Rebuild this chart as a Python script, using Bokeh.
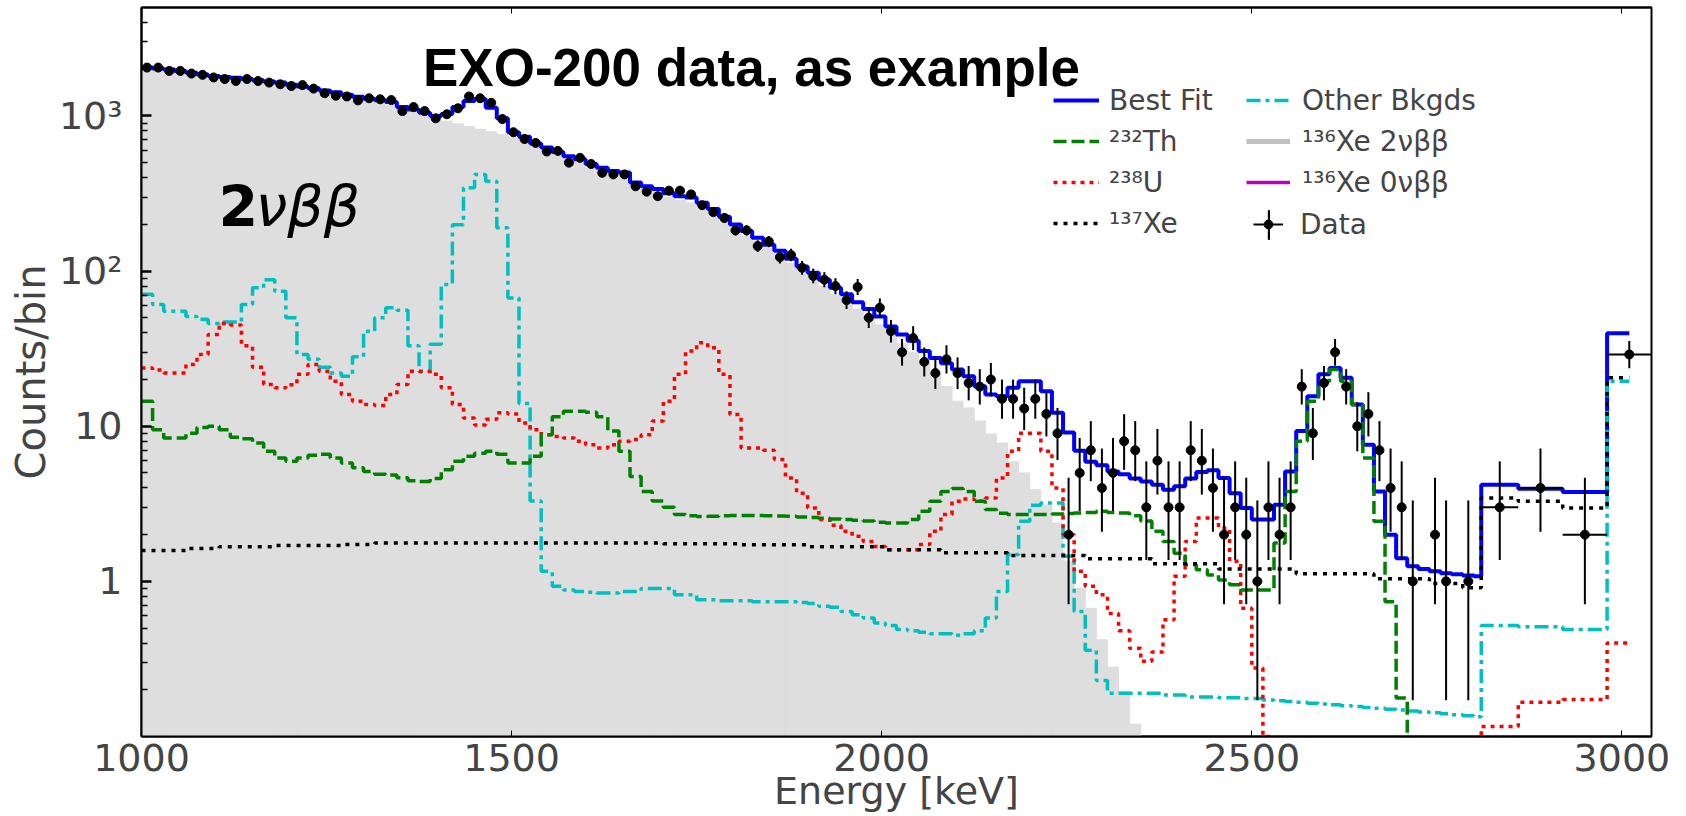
import numpy as np
from bokeh.plotting import figure
from bokeh.models import Range1d, FixedTicker, LinearAxis, Legend, LegendItem, Label
from bokeh.embed import file_html
from bokeh.resources import INLINE

# ---------------- binning (keV) ----------------
fine_lo = list(range(1000, 2801, 15))          # 121 fine bins (lower edges)
wide_edges = [2810, 2860, 2920, 2980, 3010]    # 4 wide bins at the end
edges = fine_lo + wide_edges                   # 126 edges -> 125 bins

# ---------------- model components (counts / bin) ----------------
best_fit = [2050, 2020, 1990, 1950, 1900, 1850, 1810, 1780, 1760, 1730,
            1700, 1670, 1640, 1590, 1550, 1510, 1460, 1420, 1370, 1330,
            1290, 1260, 1230, 1140, 1100, 1050, 1000, 1030, 1140, 1250,
            1285, 1130, 965, 785, 735, 665, 625, 585, 550, 525,
            490, 463, 442, 432, 373, 352, 338, 317, 304, 298,
            276, 251, 224, 200, 181, 164, 148, 135, 120, 107,
            97.5, 88, 78, 71, 63, 57, 51, 44, 39, 35.5,
            30.5, 27.5, 25.5, 23.2, 21, 18.1, 16, 15.6, 17.7, 19.5,
            19.5, 16.8, 12.2, 9.1, 6.95, 5.9, 5.6, 5.1, 4.9, 4.6,
            4.4, 4.2, 3.9, 4.1, 4.6, 5.06, 5.2, 4.64, 3.7, 2.97,
            2.5, 2.5, 3.12, 5.1, 9.3, 15.6, 21.6, 23.7, 20.5, 13.8,
            7.6, 3.8, 2.0, 1.41, 1.25, 1.2, 1.16, 1.13, 1.11, 1.09,
            1.08,
            4.2, 3.96, 3.77, 39.8]

xe136_2nu = [2000, 1970, 1940, 1900, 1860, 1820, 1780, 1750, 1730, 1700,
             1670, 1630, 1600, 1550, 1510, 1470, 1420, 1380, 1330, 1290,
             1250, 1215, 1180, 1100, 1060, 1010, 960, 925, 890, 855,
             820, 790, 760, 730, 700, 650, 610, 570, 535, 505,
             475, 445, 420, 405, 355, 335, 320, 300, 285, 275,
             255, 232, 208, 187, 168, 155, 140, 126, 112, 100,
             90, 80, 71, 64, 57, 51, 45, 39, 34, 30,
             26, 22, 18, 14.5, 13.1, 10.8, 8.9, 7.8, 5.9, 5.0,
             3.9, 3.1, 2.38, 1.35, 0.9, 0.67, 0.42, 0.28, 0.195, 0.12,
             0, 0, 0, 0, 0, 0, 0, 0, 0, 0,
             0, 0, 0, 0, 0, 0, 0, 0, 0, 0,
             0, 0, 0, 0, 0, 0, 0, 0, 0, 0,
             0,
             0, 0, 0, 0]

th232 = [14.5, 9.5, 8.4, 8.4, 9.0, 9.8, 10.0, 9.5, 8.5, 8.3,
         7.8, 6.9, 6.25, 5.95, 6.25, 6.5, 6.6, 6.25, 5.8, 5.4,
         5.1, 4.9, 4.85, 4.65, 4.45, 4.4, 4.6, 5.25, 5.95, 6.4,
         6.7, 6.9, 6.6, 5.8, 5.8, 6.4, 8.8, 11.5, 12.5, 12.5,
         12.3, 11.5, 9.3, 6.9, 4.75, 3.8, 3.3, 3.0, 2.7, 2.65,
         2.62, 2.63, 2.65, 2.66, 2.66, 2.66, 2.65, 2.64, 2.63, 2.6,
         2.58, 2.55, 2.52, 2.5, 2.48, 2.45, 2.4, 2.38, 2.38, 2.5,
         2.83, 3.28, 3.8, 3.97, 3.8, 3.28, 2.9, 2.75, 2.7, 2.7,
         2.7, 2.7, 2.72, 2.74, 2.76, 2.78, 2.83, 2.78, 2.76, 2.65,
         2.45, 2.1, 1.81, 1.52, 1.28, 1.19, 1.1, 1.02, 0.95, 0.88,
         0.88, 0.88, 1.77, 3.8, 8.0, 14.5, 19.5, 23.2, 19.5, 13.8,
         6.25, 2.44, 0.74, 0.177, 0, 0, 0, 0, 0, 0,
         0,
         0, 0, 0, 0]

u238 = [23.7, 23, 22, 22, 25, 29, 39, 46, 45, 33,
        24, 18.6, 17.7, 18.5, 21.6, 25, 22.6, 19.5, 16, 14.5,
        13.8, 13.6, 16, 18.6, 22.6, 22.5, 21.6, 17.7, 13.8, 11.3,
        10.2, 11.1, 12.2, 12.0, 10.5, 9.5, 8.8, 8.6, 8.4, 8.0,
        7.6, 7.25, 7.6, 8.0, 8.2, 8.8, 10.8, 14.5, 21.6, 30.5,
        34.5, 32, 21.6, 11.9, 7.25, 7.25, 7.0, 6.1, 4.64, 3.7,
        2.97, 2.5, 2.3, 2.1, 1.95, 1.81, 1.68, 1.6, 1.6, 1.6,
        1.73, 2.1, 2.7, 3.28, 3.4, 3.28, 3.45, 4.64, 6.9, 9.0,
        9.0, 6.9, 4.0, 2.0, 1.16, 0.93, 0.82, 0.62, 0.48, 0.37,
        0.305, 0.35, 0.565, 1.08, 1.81, 2.56, 2.56, 2.2, 1.35, 0.67,
        0.276, 0.1, 0, 0, 0, 0, 0, 0, 0, 0,
        0, 0, 0, 0, 0, 0, 0, 0, 0, 0,
        0,
        0.116, 0.166, 0.173, 0.40]

xe137 = [1.58, 1.58, 1.58, 1.58, 1.63, 1.63, 1.63, 1.67, 1.67, 1.67,
         1.67, 1.67, 1.70, 1.70, 1.70, 1.70, 1.70, 1.70, 1.73, 1.73,
         1.73, 1.77, 1.77, 1.77, 1.77, 1.77, 1.77, 1.77, 1.77, 1.77,
         1.77, 1.77, 1.77, 1.77, 1.77, 1.77, 1.77, 1.77, 1.77, 1.77,
         1.77, 1.77, 1.77, 1.77, 1.77, 1.77, 1.77, 1.75, 1.75, 1.75,
         1.75, 1.75, 1.75, 1.75, 1.72, 1.72, 1.72, 1.72, 1.72, 1.72,
         1.67, 1.67, 1.67, 1.67, 1.67, 1.67, 1.67, 1.60, 1.60, 1.60,
         1.60, 1.60, 1.53, 1.53, 1.53, 1.53, 1.53, 1.53, 1.47, 1.47,
         1.47, 1.47, 1.47, 1.47, 1.47, 1.40, 1.40, 1.40, 1.40, 1.40,
         1.40, 1.30, 1.30, 1.30, 1.30, 1.30, 1.30, 1.20, 1.20, 1.20,
         1.20, 1.20, 1.20, 1.20, 1.12, 1.12, 1.12, 1.12, 1.12, 1.12,
         1.12, 1.04, 1.04, 1.04, 1.04, 1.04, 0.97, 0.97, 0.97, 0.91,
         0.91,
         3.45, 3.28, 2.97, 20.5]

other_bkg = [71, 61, 55, 55, 51, 49, 46, 47, 47, 61,
             78, 88, 74, 50, 29, 27, 24, 22, 21, 28,
             41, 50, 58, 56, 33, 22.6, 33.7, 82, 199, 344,
             420, 380, 190, 67, 14, 3.3, 1.16, 0.93, 0.88, 0.86,
             0.85, 0.84, 0.84, 0.86, 0.86, 0.9, 0.9, 0.9, 0.82, 0.82,
             0.76, 0.76, 0.75, 0.75, 0.75, 0.74, 0.74, 0.74, 0.74, 0.73,
             0.72, 0.69, 0.68, 0.64, 0.61, 0.58, 0.54, 0.52, 0.49, 0.48,
             0.47, 0.46, 0.46, 0.45, 0.46, 0.48, 0.58, 0.86, 1.49, 2.44,
             3.1, 3.2, 3.2, 1.45, 0.64, 0.36, 0.23, 0.19, 0.19, 0.19,
             0.19, 0.19, 0.185, 0.185, 0.18, 0.18, 0.18, 0.178, 0.178, 0.176,
             0.176, 0.172, 0.17, 0.168, 0.166, 0.164, 0.162, 0.16, 0.158, 0.156,
             0.154, 0.152, 0.15, 0.148, 0.146, 0.144, 0.142, 0.14, 0.138, 0.136,
             0.134,
             0.52, 0.51, 0.49, 19.5]

# ---------------- data (counts per bin) ----------------
data_counts = [2050, 2050, 1950, 1950, 1875, 1840, 1770, 1730, 1680, 1730,
               1680, 1640, 1600, 1560, 1580, 1500, 1400, 1350, 1335, 1260,
               1300, 1280, 1265, 1075, 1140, 1075, 965, 1025, 1120, 1335,
               1300, 1215, 955, 785, 710, 670, 590, 595, 500, 537,
               490, 430, 420, 420, 352, 325, 304, 330, 330, 312,
               266, 240, 220, 183, 183, 145, 155, 123, 127, 105,
               93, 88, 80, 65, 79, 50, 58, 41, 30, 37,
               26, 22, 27, 22, 19, 18, 20, 15, 15, 13,
               15, 12, 9, 2, 5, 7, 4, 5, 8, 7,
               3, 6, 3, 3, 7, 6, 4, 2, 3, 2,
               1, 3, 2, 3, 18, 9, 19, 30, 18, 10,
               12, 7, 4, 3, 1, 0, 2, 1, 0, 1,
               0]
wide_data_edges = [2810, 2860, 2920, 2980, 3040]
wide_data_counts = [3, 4, 2, 29]

x_ticks = [1000, 1500, 2000, 2500, 3000]
y_ticks = [1, 10, 100, 1000]
y_tick_labels = {1: "1", 10: "10", 100: "10²", 1000: "10³"}
y_minor = [0.2, 0.3, 0.4, 0.5, 0.6, 0.7, 0.8, 0.9, 2, 3, 4, 5, 6, 7, 8, 9,
           20, 30, 40, 50, 60, 70, 80, 90, 200, 300, 400, 500, 600, 700, 800, 900,
           2000, 3000, 4000]

FLOOR = 1e-3
FONT = "DejaVu Sans"
NAN = float("nan")

p = figure(width=1686, height=816, x_range=Range1d(1000, 3040), y_range=Range1d(0.1, 5000),
           y_axis_type="log", output_backend="svg", toolbar_location=None,
           min_border_left=141, min_border_right=35, min_border_top=7, min_border_bottom=80)
p.grid.visible = False
p.outline_line_color = "black"
p.outline_line_width = 2
p.background_fill_color = "white"
p.border_fill_color = "white"

xa = p.xaxis[0]
xa.ticker = FixedTicker(ticks=x_ticks)
xa.axis_label = "Energy [keV]"
xa.axis_label_text_font = FONT
xa.axis_label_text_font_size = "38px"
xa.axis_label_text_font_style = "normal"
xa.axis_label_standoff = -5
xa.major_label_text_font = FONT
xa.major_label_text_font_size = "38px"
xa.major_label_standoff = 7
xa.major_tick_in = 6
xa.major_tick_out = 0
xa.minor_tick_line_color = None
xa.axis_line_width = 2

ya = p.yaxis[0]
ya.ticker = FixedTicker(ticks=y_ticks, minor_ticks=y_minor)
ya.major_label_overrides = y_tick_labels
ya.axis_label = "Counts/bin"
ya.axis_label_text_font = FONT
ya.axis_label_text_font_size = "40px"
ya.axis_label_text_font_style = "normal"
ya.axis_label_standoff = 2
ya.major_label_text_font = FONT
ya.major_label_text_font_size = "38px"
ya.major_label_standoff = 19
ya.major_tick_in = 10
ya.major_tick_out = 0
ya.major_tick_line_width = 2.5
ya.minor_tick_in = 6
ya.minor_tick_out = 0
ya.minor_tick_line_width = 1.3
ya.axis_line_width = 2

top = LinearAxis(ticker=FixedTicker(ticks=x_ticks), major_label_text_font_size="1px",
                 major_label_text_color=None, major_label_standoff=0,
                 major_tick_in=6, major_tick_out=0,
                 minor_tick_line_color=None, axis_line_width=2)
p.add_layout(top, "above")


def ext(vals):
    v = np.asarray(vals, dtype=float)
    v = np.where(v > 0, v, FLOOR)
    return list(v) + [v[-1]]


# 2nu beta beta filled histogram
g = np.asarray(xe136_2nu, dtype=float)
pos = g > 0
left = np.asarray(edges[:-1], dtype=float)[pos]
right = np.asarray(edges[1:], dtype=float)[pos]
p.quad(left=left, right=right, bottom=FLOOR, top=g[pos],
       fill_color="#dedede", line_color="#dedede", line_width=1)

r_fit = p.step(x=edges, y=ext(best_fit), mode="after", line_color="#0000ff", line_width=4)
r_oth = p.step(x=edges, y=ext(other_bkg), mode="after", line_color="#00bfbf", line_width=3.5,
               line_dash="14 5 4 5")
r_u = p.step(x=edges, y=ext(u238), mode="after", line_color="#ff0000", line_width=3.5,
             line_dash="4 5")
r_th = p.step(x=edges, y=ext(th232), mode="after", line_color="#008000", line_width=3.5,
              line_dash="13 5")
r_xe = p.step(x=edges, y=ext(xe137), mode="after", line_color="black", line_width=3.5,
              line_dash="4 6")

# data with Poisson (Gehrels) error bars
def gehrels(n):
    n = np.asarray(n, dtype=float)
    up = n + np.sqrt(n + 0.75) + 1.0
    lo = n * (1.0 - 1.0 / (9.0 * n) - 1.0 / (3.0 * np.sqrt(n))) ** 3
    return lo, up

dc = np.asarray(data_counts, dtype=float)
centers = (np.asarray(fine_lo, dtype=float) + np.asarray(edges[1:122], dtype=float)) / 2.0
m = dc > 0
dx = centers[m]
dy = dc[m]
lo, up = gehrels(dy)
p.segment(x0=dx, y0=lo, x1=dx, y1=up, line_color="black", line_width=2)

wc = np.asarray(wide_data_counts, dtype=float)
we = np.asarray(wide_data_edges, dtype=float)
wx = (we[:-1] + we[1:]) / 2.0
wlo, wup = gehrels(wc)
p.segment(x0=wx, y0=wlo, x1=wx, y1=wup, line_color="black", line_width=2)
p.segment(x0=we[:-1], y0=wc, x1=we[1:], y1=wc, line_color="black", line_width=2)
p.scatter(x=np.concatenate([dx, wx]), y=np.concatenate([dy, wc]), size=9,
          fill_color="black", line_color="black")

# legend-only renderers (no visible data)
r_2nu = p.line(x=[NAN, NAN], y=[NAN, NAN], line_color="#c0c0c0", line_width=5)
r_0nu = p.line(x=[NAN, NAN], y=[NAN, NAN], line_color="#bf00bf", line_width=3.5)
r_dh = p.segment(x0=[NAN], y0=[NAN], x1=[NAN], y1=[NAN], line_color="black", line_width=2)
r_dd = p.scatter(x=[NAN], y=[NAN], size=9, fill_color="black", line_color="black")
r_dv = p.quad(left=[NAN], right=[NAN], top=[NAN], bottom=[NAN],
              fill_color="black", line_color=None)

common = dict(label_text_font=FONT, label_text_font_size="28px", padding=0, margin=0,
              spacing=3, border_line_alpha=0, background_fill_alpha=0,
              glyph_height=38, label_height=38)

leg1 = Legend(items=[LegendItem(label="Best Fit", renderers=[r_fit]),
                     LegendItem(label="²³²Th", renderers=[r_th]),
                     LegendItem(label="²³⁸U", renderers=[r_u]),
                     LegendItem(label="¹³⁷Xe", renderers=[r_xe])],
              location=(912, 494), glyph_width=46, label_standoff=10, **common)
leg2 = Legend(items=[LegendItem(label="Other Bkgds", renderers=[r_oth]),
                     LegendItem(label="¹³⁶Xe 2νββ", renderers=[r_2nu]),
                     LegendItem(label="¹³⁶Xe 0νββ", renderers=[r_0nu])],
              location=(1105, 535), glyph_width=44, label_standoff=12, **common)
common3 = dict(common)
common3["glyph_height"] = 22
leg3 = Legend(items=[LegendItem(label="Data", renderers=[r_dh, r_dd])],
              location=(1112, 493), glyph_width=30, label_standoff=17, **common3)
common4 = dict(common)
common4["glyph_height"] = 37
leg4 = Legend(items=[LegendItem(label="", renderers=[r_dv])],
              location=(1126, 493), glyph_width=3, label_standoff=0, **common4)
for lg in (leg1, leg2, leg3, leg4):
    p.add_layout(lg)

# annotations (screen units relative to the plot frame's bottom-left corner)
p.add_layout(Label(x=610, y=669, x_units="screen", y_units="screen",
                   text="EXO-200 data, as example", text_align="center",
                   text_baseline="alphabetic", text_font="Liberation Sans",
                   text_font_style="bold", text_font_size="53px", text_color="black"))
p.add_layout(Label(x=77, y=531, x_units="screen", y_units="screen", text="2",
                   text_baseline="alphabetic", text_font=FONT, text_font_style="bold",
                   text_font_size="57px", text_color="black"))
p.add_layout(Label(x=114, y=531, x_units="screen", y_units="screen", text="νββ",
                   text_baseline="alphabetic", text_font=FONT, text_font_style="italic",
                   text_font_size="57px", text_color="black"))

open("out.html", "w").write(file_html(p, INLINE))
